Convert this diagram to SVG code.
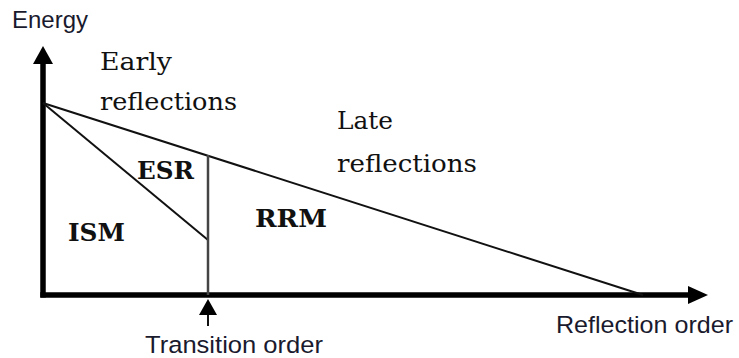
<svg xmlns="http://www.w3.org/2000/svg" width="739" height="358" viewBox="0 0 739 358">
  <style>
    .sans { font-family: "Liberation Sans", Arial, sans-serif; font-size: 24.5px; fill: #1a1a2e; }
    .serif { font-family: "DejaVu Serif", "Liberation Serif", serif; font-size: 25px; fill: #111; }
    .region { font-family: "DejaVu Serif", "Liberation Serif", serif; font-size: 24.5px; font-weight: bold; fill: #111; }
    .axis { stroke: #000; stroke-width: 5.5; fill: none; }
    .thin { stroke: #111; stroke-width: 2; fill: none; }
    .divider { stroke: #444; stroke-width: 2.5; fill: none; }
  </style>
  <rect width="739" height="358" fill="#fff"/>
  <g id="connectors">
    <line class="axis" x1="43" y1="297.5" x2="43" y2="60"/>
    <line class="axis" x1="40.3" y1="295" x2="690" y2="295"/>
    <polygon points="43,46 33,64 53,64" fill="#000"/>
    <polygon points="708,295 688,286 688,304" fill="#000"/>
    <line class="thin" x1="43" y1="103" x2="643" y2="295"/>
    <line class="thin" x1="43" y1="103" x2="208" y2="240"/>
    <line class="divider" x1="208" y1="155" x2="208" y2="295"/>
    <line class="thin" x1="208" y1="312" x2="208" y2="326"/>
    <polygon points="208,299 199,315 217,315" fill="#000"/>
  </g>
  <g id="energy"><text class="sans" x="12" y="28" textLength="76" lengthAdjust="spacingAndGlyphs">Energy</text></g>
  <g id="early"><text class="serif" x="100" y="70" textLength="72" lengthAdjust="spacingAndGlyphs">Early</text><text class="serif" x="100" y="110" textLength="137" lengthAdjust="spacingAndGlyphs">reflections</text></g>
  <g id="late"><text class="serif" x="337" y="129" textLength="56" lengthAdjust="spacingAndGlyphs">Late</text><text class="serif" x="337" y="172" textLength="140" lengthAdjust="spacingAndGlyphs">reflections</text></g>
  <g id="esr"><text class="region" x="137" y="179" textLength="57" lengthAdjust="spacingAndGlyphs">ESR</text></g>
  <g id="ism"><text class="region" x="68" y="241" textLength="57" lengthAdjust="spacingAndGlyphs">ISM</text></g>
  <g id="rrm"><text class="region" x="255" y="227" textLength="72" lengthAdjust="spacingAndGlyphs">RRM</text></g>
  <g id="transition"><text class="sans" x="145" y="353" textLength="178" lengthAdjust="spacingAndGlyphs">Transition order</text></g>
  <g id="reflection-order"><text class="sans" x="556" y="333" textLength="177" lengthAdjust="spacingAndGlyphs">Reflection order</text></g>
</svg>
